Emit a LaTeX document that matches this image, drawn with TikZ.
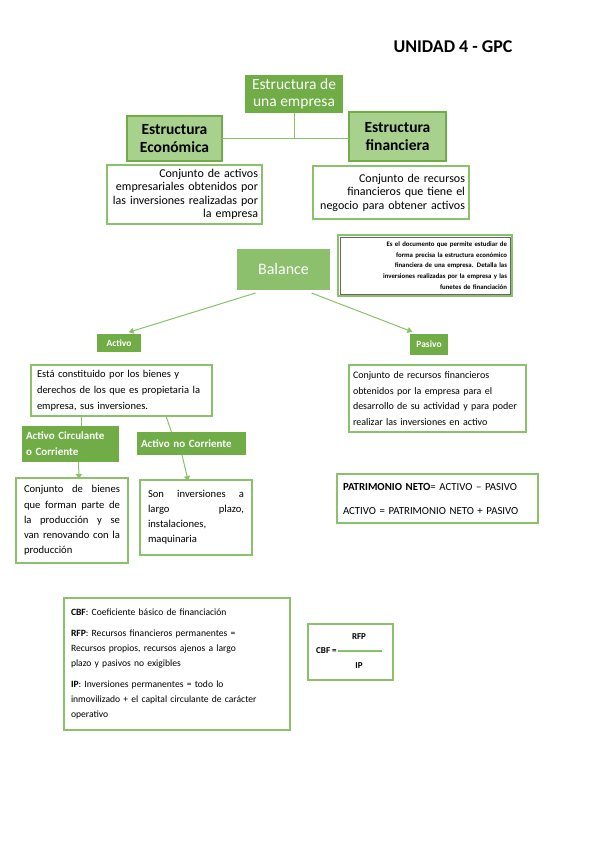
\documentclass[tikz,border=0pt]{standalone}
\usepackage{fontspec}
\setmainfont{Carlito}
\usetikzlibrary{arrows.meta,calc}
\definecolor{gdark}{HTML}{70AD47}
\definecolor{gbal}{HTML}{8DC06C}
\definecolor{glight}{HTML}{A9D18E}
\definecolor{gline}{HTML}{8BC168}
\newcommand{\fs}[2]{\fontsize{#1}{#2}\selectfont}
\newcommand{\jl}[1]{{\spaceskip=0pt\xspaceskip=0pt\makebox[\hsize][s]{#1}}}
\begin{document}
\begin{tikzpicture}[x=1pt,y=-1pt,
 base/.style={rectangle,inner sep=0pt,outer sep=0pt},
 darkbox/.style={base,fill=gdark,text=white},
 lightbox/.style={base,fill=glight,draw=gdark,line width=1.2pt},
 descbox/.style={base,fill=white,draw=gline,line width=1.3pt},
 conn/.style={draw=gline,line width=1pt},
 arr/.style={conn,-{Triangle[length=5pt,width=6pt]}}]
\useasboundingbox[fill=white] (0,0) rectangle (599,848);

\node[font=\bfseries\fs{18}{20}] (title) at (453,47) {UNIDAD 4 - GPC};

\node[darkbox,minimum width=98pt,minimum height=38pt,align=center,font=\fs{15.5}{17}] (emp) at (294,94) {Estructura de\\una empresa};
\node[lightbox,minimum width=95pt,minimum height=45pt,align=center,font=\bfseries\fs{15.5}{18}] (econ) at (174.5,138.5) {Estructura\\Económica};
\node[lightbox,minimum width=97pt,minimum height=49pt,align=center,font=\bfseries\fs{15.5}{18}] (fin) at (397.5,136.5) {Estructura\\financiera};
\coordinate (jn) at (emp.south |- econ.east);
\draw[conn] (emp.south) -- (jn);
\draw[conn] (econ.east) -- (jn) -- (fin.west |- jn);

\node[descbox,minimum width=155pt,minimum height=59pt,text width=147pt,align=right,font=\fs{12}{13.5}] (econd) at (184.5,194.5) {Conjunto de activos\\empresariales obtenidos por\\las inversiones realizadas por\\la empresa};
\node[descbox,minimum width=156pt,minimum height=53pt,text width=148pt,align=right,font=\fs{12}{13.5}] (find) at (391,192.5) {Conjunto de recursos\\financieros que tiene el\\negocio para obtener activos};

\node[base,fill=gbal,text=white,minimum width=93pt,minimum height=41pt,font=\fs{16}{18}] (bal) at (283.5,269.5) {Balance};
\node[descbox,minimum width=174pt,minimum height=61pt,text width=164pt,align=right,font=\bfseries\fs{6.8}{10.7}] (bald) at (425,265.5) {Es el documento que permite estudiar de\\forma precisa la estructura económico\\financiera de una empresa. Detalla las\\inversiones realizadas por la empresa y las\\funetes de financiación};
\draw[black!60,line width=0.4pt] ([shift={(2pt,-2pt)}]bald.north west) rectangle ([shift={(-2pt,2pt)}]bald.south east);

\node[darkbox,minimum width=44pt,minimum height=18pt,font=\bfseries\fs{9.5}{11}] (act) at (119,343) {Activo};
\node[darkbox,minimum width=38pt,minimum height=21pt,font=\bfseries\fs{9.5}{11}] (pas) at (429,344.5) {Pasivo};
\draw[arr,shorten >=6pt] ([xshift=-28pt,yshift=-3pt]bal.south) -- ([xshift=4pt]act.north);
\draw[arr,shorten >=6pt] ([xshift=28pt,yshift=-3pt]bal.south) -- ([xshift=-11pt]pas.north);

\node[descbox,minimum width=181pt,minimum height=51pt,text width=169pt,align=left,font=\fs{10.5}{16}] (actd) at (121.5,390.5) {Está constituido por los bienes y\\derechos de los que es propietaria la\\empresa, sus inversiones.};
\node[descbox,minimum width=177pt,minimum height=67pt,text width=169pt,align=left,font=\fs{10}{15.5}] (pasd) at (437.5,398.5) {Conjunto de recursos financieros\\obtenidos por la empresa para el\\desarrollo de su actividad y para poder\\realizar las inversiones en activo};

\node[darkbox,minimum width=97pt,minimum height=36pt,text width=89pt,align=left,font=\bfseries\fs{11}{16}] (circ) at (70.5,444) {Activo Circulante\\o Corriente};
\node[darkbox,minimum width=109pt,minimum height=23pt,text width=101pt,align=left,font=\bfseries\fs{11}{12}] (nc) at (191.5,443.5) {Activo no Corriente};
\draw[conn] ([xshift=-40.5pt]actd.south) -- ([xshift=10.5pt]circ.north);
\draw[conn] ([xshift=44.5pt]actd.south) -- ([xshift=-20pt]nc.north);

\node[descbox,minimum width=112pt,minimum height=85pt,text width=96pt,align=left,font=\fs{10.6}{15.3}] (circd) at (72,520.5) {\jl{Conjunto de bienes}\\\jl{que forman parte de}\\\jl{la producción y se}\\\jl{van renovando con la}\\producción};
\node[descbox,minimum width=112pt,minimum height=75pt,text width=96pt,align=left,font=\fs{10.6}{15}] (ncd) at (196,517.5) {\jl{Son inversiones a}\\\jl{largo plazo,}\\instalaciones,\\maquinaria};
\draw[arr,shorten >=-1pt] ([xshift=8pt]circ.south) -- ([xshift=7pt]circd.north);
\draw[arr,shorten >=-1pt] ([xshift=-9.5pt]nc.south) -- ([xshift=-8pt]ncd.north);

\node[descbox,minimum width=201pt,minimum height=49pt,text width=189pt,align=left,font=\fs{10.8}{24}] (patr) at (437.5,498.5) {\textbf{PATRIMONIO NETO}= ACTIVO -- PASIVO\\ACTIVO = PATRIMONIO NETO + PASIVO};

\node[descbox,minimum width=226pt,minimum height=132pt,text width=212pt,align=left,font=\fs{9.6}{15}] (cbf) at (177,664) {\textbf{CBF}: Coeficiente básico de financiación\\[6pt]\textbf{RFP}: Recursos financieros permanentes =\\Recursos propios, recursos ajenos a largo\\plazo y pasivos no exigibles\\[6pt]\textbf{IP}: Inversiones permanentes = todo lo\\inmovilizado + el capital circulante de carácter\\operativo};

\node[descbox,minimum width=85pt,minimum height=56pt] (form) at (350.5,652) {};
\node[font=\bfseries\fs{9}{11},anchor=west,inner sep=0pt] (cbfl) at (316,651) {CBF =};
\node[font=\bfseries\fs{9}{11}] (rfp) at (359,637) {RFP};
\node[font=\bfseries\fs{9}{11}] (ip) at (359,666) {IP};
\coordinate (fl) at (338,651);
\coordinate (fr) at (382,651);
\draw[gline,line width=1.8pt] (fl) -- (fr);
\end{tikzpicture}
\end{document}
